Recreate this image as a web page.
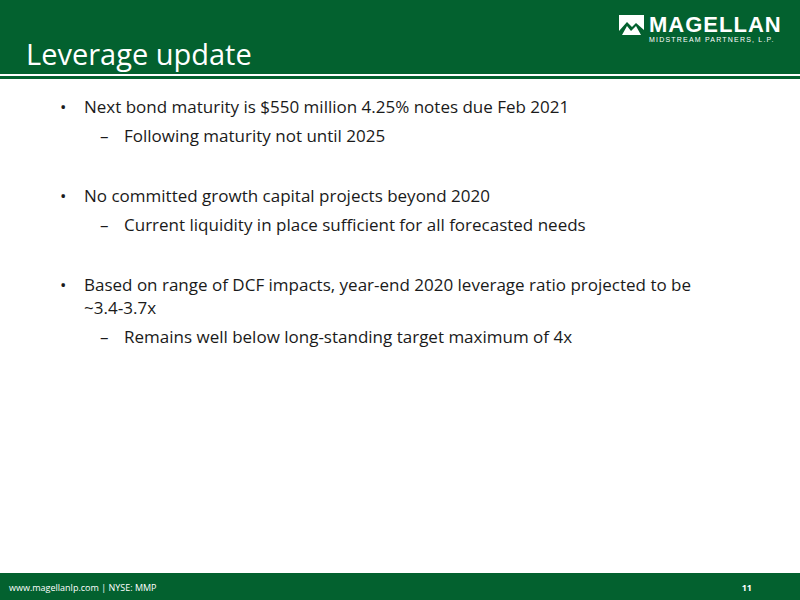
<!DOCTYPE html>
<html>
<head>
<meta charset="utf-8">
<script src="https://cdn.jsdelivr.net/npm/chart.js@4"></script>
<style>
  body { margin: 0; width: 800px; height: 600px; position: relative; background: #fff; font-family: "Open Sans", "Liberation Sans", sans-serif; overflow: hidden; }
  #head { position: absolute; left: 0; top: 0; width: 800px; height: 74px; background: #03612f; }
  #rule { position: absolute; left: 0; top: 76px; width: 800px; height: 3px; background: #03612f; }
  #title { position: absolute; left: 26px; top: 34px; color: #fff; font-size: 29px; font-family: "Open Sans", sans-serif; }
  #logo { position: absolute; left: 619px; top: 12px; color: #fff; }
  #logo .name { font-size: 22px; font-weight: bold; letter-spacing: 1px; position: absolute; left: 30px; top: 0; font-family: "Liberation Sans", sans-serif; }
  #logo .sub { font-size: 7px; letter-spacing: 1.2px; position: absolute; left: 30px; top: 24px; white-space: nowrap; font-family: "Liberation Sans", sans-serif; }
  #logo .mark { position: absolute; left: 0; top: 3px; width: 25px; height: 20px; }
  #body { position: absolute; left: 60px; top: 95px; width: 660px; color: #1a1a1a; font-size: 17px; line-height: 23px; }
  .b { position: relative; padding-left: 24px; }
  .b:before { content: "\2022"; position: absolute; left: 0; }
  .s { position: relative; padding-left: 64px; margin-top: 6px; }
  .s:before { content: "\2013"; position: absolute; left: 40px; }
  .gap { height: 37px; }
  #foot { position: absolute; left: 0; top: 573px; width: 800px; height: 27px; background: #03612f; color: #fff; font-size: 9px; }
  #foot .l { position: absolute; left: 9px; top: 8px; }
  #foot .r { position: absolute; right: 48px; top: 8px; font-weight: bold; }
</style>
</head>
<body>
<div id="head"></div>
<div id="rule"></div>
<div id="title">Leverage update</div>
<div id="logo">
  <svg class="mark" viewBox="0 0 25 20"><rect x="0" y="0" width="25" height="20" fill="#fff"/><polygon points="0,16 8,7 13,12 17,8 25,15 25,20 0,20" fill="#03612f"/><polygon points="3,20 8,11 12,16 17,11 22,20" fill="#fff"/></svg>
  <div class="name">MAGELLAN</div>
  <div class="sub">MIDSTREAM PARTNERS, L.P.</div>
</div>
<div id="body"></div>
<div id="foot"><span class="l">www.magellanlp.com | NYSE: MMP</span><span class="r">11</span></div>
<script>
const bullets = [
  "Next bond maturity is $550 million 4.25% notes due Feb 2021",
  "No committed growth capital projects beyond 2020",
  "Based on range of DCF impacts, year-end 2020 leverage ratio projected to be ~3.4\u20113.7x"
];
const subBullets = [
  "Following maturity not until 2025",
  "Current liquidity in place sufficient for all forecasted needs",
  "Remains well below long-standing target maximum of 4x"
];
const body = document.getElementById("body");
bullets.forEach((t, i) => {
  if (i > 0) { const g = document.createElement("div"); g.className = "gap"; body.appendChild(g); }
  const b = document.createElement("div"); b.className = "b"; b.textContent = t; body.appendChild(b);
  const s = document.createElement("div"); s.className = "s"; s.textContent = subBullets[i]; body.appendChild(s);
});
</script>
</body>
</html>
